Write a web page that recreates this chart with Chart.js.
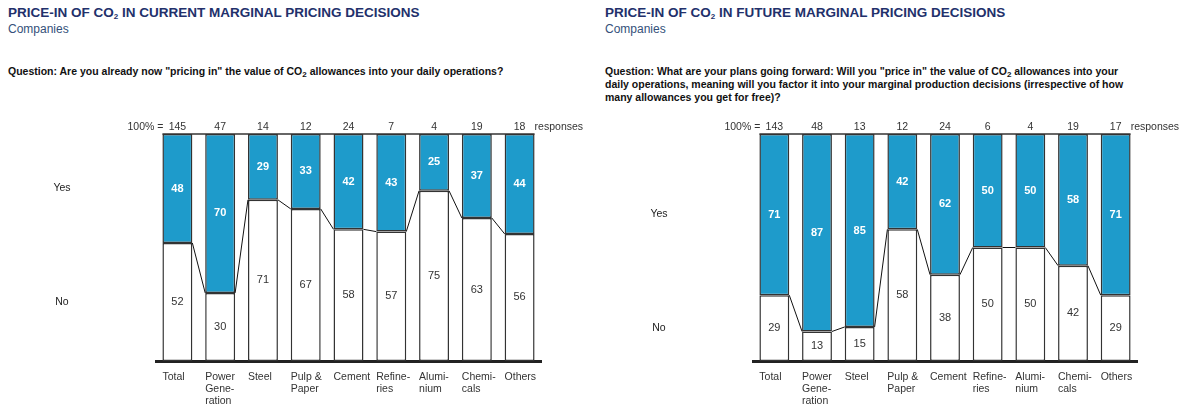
<!DOCTYPE html>
<html>
<head>
<meta charset="utf-8">
<script src="https://cdn.jsdelivr.net/npm/chart.js@4/dist/chart.umd.min.js"></script>
<style>
  body { margin: 0; background: #fff; font-family: "Liberation Sans", Arial, sans-serif; }
  #page { position: relative; width: 1182px; height: 405px; overflow: hidden; }
  .title { position: absolute; top: 5px; font-size: 13.5px; font-weight: bold; color: #22306b; white-space: nowrap; }
  .sub { position: absolute; top: 22px; font-size: 12px; color: #34507a; }
  .question { position: absolute; top: 65px; font-size: 10.5px; font-weight: bold; color: #111; line-height: 13px; white-space: nowrap; }
  sub { font-size: 8px; vertical-align: -2px; line-height: 0; }
  canvas { position: absolute; }
</style>
</head>
<body>
<div id="page">
  <div class="title" style="left:8px">PRICE-IN OF CO<sub>2</sub> IN CURRENT MARGINAL PRICING DECISIONS</div>
  <div class="sub" style="left:8px">Companies</div>
  <div class="question" style="left:8px">Question: Are you already now "pricing in" the value of CO<sub>2</sub> allowances into your daily operations?</div>

  <div class="title" style="left:605px">PRICE-IN OF CO<sub>2</sub> IN FUTURE MARGINAL PRICING DECISIONS</div>
  <div class="sub" style="left:605px">Companies</div>
  <div class="question" style="left:605px">Question: What are your plans going forward: Will you "price in" the value of CO<sub>2</sub> allowances into your<br>daily operations, meaning will you factor it into your marginal production decisions (irrespective of how<br>many allowances you get for free)?</div>

  <div style="position:absolute; left:0; top:110px; width:591px; height:295px"><canvas id="current"></canvas></div>
  <div style="position:absolute; left:591px; top:110px; width:591px; height:295px"><canvas id="future"></canvas></div>
</div>

<script>
// sectors shown on both charts
const sectors = [
  "Total", ["Power", "Gene-", "ration"], "Steel", ["Pulp &", "Paper"], "Cement",
  ["Refine-", "ries"], ["Alumi-", "nium"], ["Chemi-", "cals"], "Others"
];

// current pricing decisions (% of companies)
const currentResponses = [145, 47, 14, 12, 24, 7, 4, 19, 18];
const currentYes = [48, 70, 29, 33, 42, 43, 25, 37, 44];
const currentNo = [52, 30, 71, 67, 58, 57, 75, 63, 56];

// future pricing decisions (% of companies)
const futureResponses = [143, 48, 13, 12, 24, 6, 4, 19, 17];
const futureYes = [71, 87, 85, 42, 62, 50, 50, 58, 71];
const futureNo = [29, 13, 15, 58, 38, 50, 50, 42, 29];

const BLUE = "#1e9bcb";
const EDGE = "#333333";
const FONT = "'Liberation Sans', Arial, sans-serif";

// connectors, value labels, response counts, Yes/No captions
const waterfallPlugin = {
  id: "waterfall",
  afterDatasetsDraw(chart, args, opts) {
    const ctx = chart.ctx;
    const y = chart.scales.y;
    const noBars = chart.getDatasetMeta(0).data;
    const yesBars = chart.getDatasetMeta(1).data;
    const no = chart.data.datasets[0].data;
    const yes = chart.data.datasets[1].data;
    ctx.save();

    // line between the top of each "No" segment and the next one
    ctx.strokeStyle = "#111";
    ctx.lineWidth = 1;
    for (let i = 0; i < noBars.length - 1; i++) {
      const a = noBars[i], b = noBars[i + 1];
      ctx.beginPath();
      ctx.moveTo(a.x + a.width / 2, y.getPixelForValue(no[i]));
      ctx.lineTo(b.x - b.width / 2, y.getPixelForValue(no[i + 1]));
      ctx.stroke();
    }
    // 100% line across the top
    const top = y.getPixelForValue(100);
    ctx.lineWidth = 1.5;
    ctx.strokeStyle = EDGE;
    ctx.beginPath();
    ctx.moveTo(noBars[0].x - noBars[0].width / 2, top);
    ctx.lineTo(noBars[noBars.length - 1].x + noBars[noBars.length - 1].width / 2, top);
    ctx.stroke();

    // segment values
    ctx.textAlign = "center";
    ctx.textBaseline = "middle";
    noBars.forEach((bar, i) => {
      ctx.font = "11px " + FONT;
      ctx.fillStyle = "#333";
      ctx.fillText(no[i], bar.x, (bar.y + bar.base) / 2);
      const yb = yesBars[i];
      ctx.font = "bold 11px " + FONT;
      ctx.fillStyle = "#fff";
      ctx.fillText(yes[i], yb.x, (yb.y + yb.base) / 2);
    });

    // response counts above the bars
    ctx.font = "10.5px " + FONT;
    ctx.fillStyle = "#333";
    ctx.textBaseline = "alphabetic";
    const countY = top - 4;
    opts.counts.forEach((c, i) => ctx.fillText(c, noBars[i].x, countY));
    const first = noBars[0], last = noBars[noBars.length - 1];
    ctx.textAlign = "right";
    ctx.fillText("100% =", first.x - 14, countY);
    ctx.textAlign = "left";
    ctx.fillText("responses", last.x + 15, countY);

    // Yes / No captions beside the first bar
    ctx.font = "10.5px " + FONT;
    ctx.fillStyle = "#222";
    ctx.textAlign = "center";
    ctx.textBaseline = "middle";
    ctx.fillText("Yes", opts.captionX, (yesBars[0].y + yesBars[0].base) / 2);
    ctx.fillText("No", opts.captionX, (noBars[0].y + noBars[0].base) / 2);
    ctx.restore();
  }
};

function makeChart(id, counts, yes, no, pad, captionX) {
  return new Chart(document.getElementById(id), {
    type: "bar",
    data: {
      labels: sectors,
      datasets: [
        { label: "No", data: no, backgroundColor: "#fff", borderColor: EDGE, borderWidth: 1.5, borderSkipped: false },
        { label: "Yes", data: yes, backgroundColor: BLUE, borderColor: EDGE, borderWidth: 1.5, borderSkipped: false }
      ]
    },
    options: {
      responsive: true,
      maintainAspectRatio: false,
      animation: false,
      layout: { padding: pad },
      datasets: { bar: { barPercentage: 0.7, categoryPercentage: 1.0 } },
      plugins: {
        legend: { display: false },
        tooltip: { enabled: false },
        waterfall: { counts: counts, captionX: captionX }
      },
      scales: {
        x: {
          stacked: true,
          grid: { display: false, drawTicks: false },
          border: { display: true, color: "#222", width: 3 },
          ticks: {
            align: "start",
            labelOffset: -15,
            padding: 10,
            maxRotation: 0,
            autoSkip: false,
            color: "#333",
            font: { family: FONT, size: 10.5, lineHeight: 1.15 }
          },
          afterFit(scale) { scale.height = 44; }
        },
        y: { stacked: true, display: false, min: 0, max: 100 }
      }
    },
    plugins: [waterfallPlugin]
  });
}

makeChart("current", currentResponses, currentYes, currentNo,
  { left: 156, right: 50, top: 24, bottom: 0 }, 62);
makeChart("future", futureResponses, futureYes, futureNo,
  { left: 162, right: 45, top: 24, bottom: 0 }, 68);
</script>
</body>
</html>
